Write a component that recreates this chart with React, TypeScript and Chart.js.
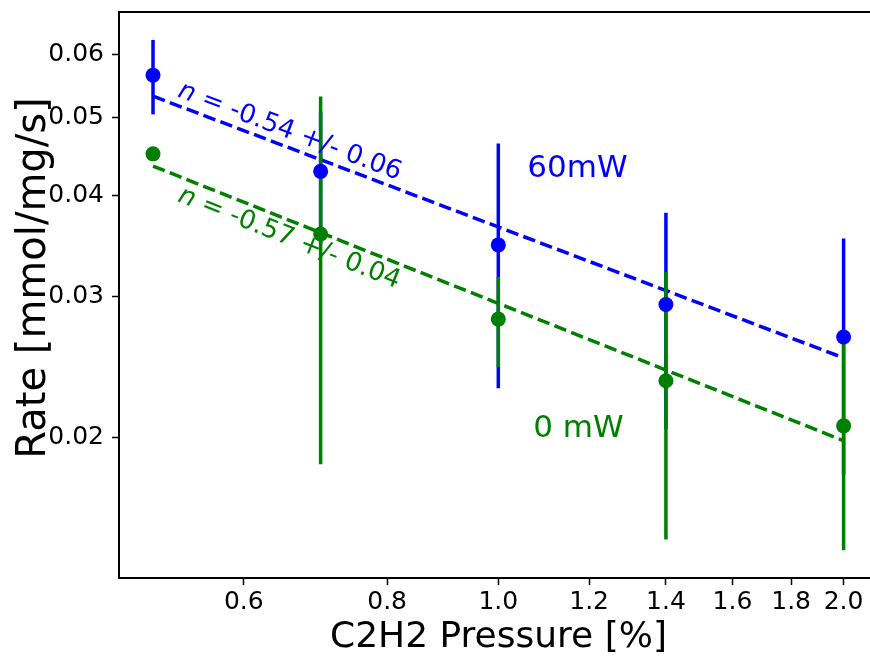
import React, { useEffect, useRef } from 'react';
import { Chart, registerables } from 'chart.js';

Chart.register(...registerables);

// ---- data ----
const pressures = [0.5, 0.7, 1.0, 1.4, 2.0];
const rate60 = [0.0565, 0.0429, 0.03475, 0.0293, 0.0267];
const err60 = [0.006, 0.008, 0.0117, 0.0088, 0.0087];
const rate0 = [0.0451, 0.03585, 0.0281, 0.02355, 0.0207];
const err0 = [0.0008, 0.0173, 0.0036, 0.0086, 0.0062];
const fitX = [0.5, 2.0];
const fit60 = [0.0532, 0.02515];
const fit0 = [0.04355, 0.01984];
const xTicks = [0.6, 0.8, 1.0, 1.2, 1.4, 1.6, 1.8, 2.0];
const yTicks = [0.02, 0.03, 0.04, 0.05, 0.06];
const xRange = [0.467, 2.143];
const yRange = [0.01339, 0.0677];
const xTitle = 'C2H2 Pressure [%]';
const yTitle = 'Rate [mmol/mg/s]';
const note60Rest = ' = -0.54 +/- 0.06';
const note0Rest = ' = -0.57 +/- 0.04';
const note60Pos = { x: 0.5245, y: 0.0532 };
const note0Pos = { x: 0.5245, y: 0.0394 };
const label60 = '60mW';
const label0 = '0 mW';
const label60Pos = { x: 1.0598, y: 0.04221 };
const label0Pos = { x: 1.0726, y: 0.02006 };

const BLUE = '#0000ff';
const GREEN = '#008000';
const FONT = '"DejaVu Sans", sans-serif';

function drawBars(chart: any, ys: number[], errs: number[], color: string) {
  const { ctx, scales, chartArea } = chart;
  ctx.save();
  ctx.beginPath();
  ctx.rect(chartArea.left, chartArea.top, chartArea.right - chartArea.left, chartArea.bottom - chartArea.top);
  ctx.clip();
  ctx.strokeStyle = color;
  ctx.lineWidth = 3.5;
  ctx.lineCap = 'butt';
  pressures.forEach((p, i) => {
    const px = scales.x.getPixelForValue(p);
    const y1 = scales.y.getPixelForValue(ys[i] + errs[i]);
    const y2 = scales.y.getPixelForValue(ys[i] - errs[i]);
    ctx.beginPath();
    ctx.moveTo(px, y1);
    ctx.lineTo(px, y2);
    ctx.stroke();
  });
  ctx.restore();
  ctx.beginPath();
}

function drawNote(chart: any, pos: { x: number; y: number }, fit: number[], rest: string, color: string) {
  const { ctx, scales } = chart;
  const x0 = scales.x.getPixelForValue(fitX[0]);
  const x1 = scales.x.getPixelForValue(fitX[1]);
  const y0 = scales.y.getPixelForValue(fit[0]);
  const y1 = scales.y.getPixelForValue(fit[1]);
  const angle = Math.atan2(y1 - y0, x1 - x0);
  const px = scales.x.getPixelForValue(pos.x);
  const py = scales.y.getPixelForValue(pos.y);
  ctx.save();
  ctx.translate(px, py);
  ctx.rotate(angle);
  ctx.fillStyle = color;
  ctx.textAlign = 'left';
  ctx.textBaseline = 'alphabetic';
  ctx.font = `italic 26px ${FONT}`;
  ctx.fillText('n', 0, 0);
  const w = ctx.measureText('n').width;
  ctx.font = `26px ${FONT}`;
  ctx.fillText(rest, w, 0);
  ctx.restore();
}

function drawLabel(chart: any, pos: { x: number; y: number }, text: string, color: string) {
  const { ctx, scales } = chart;
  ctx.save();
  ctx.fillStyle = color;
  ctx.textAlign = 'left';
  ctx.textBaseline = 'alphabetic';
  ctx.font = `31px ${FONT}`;
  ctx.fillText(text, scales.x.getPixelForValue(pos.x), scales.y.getPixelForValue(pos.y));
  ctx.restore();
}

const overlayPlugin = {
  id: 'overlay',
  beforeDatasetsDraw(chart: any) {
    drawBars(chart, rate60, err60, BLUE);
  },
  beforeDatasetDraw(chart: any, args: any) {
    if (args.meta && args.meta._dataset && args.meta._dataset.id === 'fit0') {
      drawBars(chart, rate0, err0, GREEN);
    }
  },
  afterDatasetsDraw(chart: any) {
    drawNote(chart, note60Pos, fit60, note60Rest, BLUE);
    drawNote(chart, note0Pos, fit0, note0Rest, GREEN);
    drawLabel(chart, label60Pos, label60, BLUE);
    drawLabel(chart, label0Pos, label0, GREEN);
  },
  afterDraw(chart: any) {
    const { ctx, chartArea } = chart;
    ctx.save();
    ctx.strokeStyle = '#000';
    ctx.lineWidth = 2;
    ctx.beginPath();
    ctx.moveTo(chartArea.left - 1, chartArea.top);
    ctx.lineTo(chartArea.right, chartArea.top);
    ctx.stroke();
    ctx.beginPath();
    ctx.fillStyle = '#000';
    ctx.font = `40px ${FONT}`;
    ctx.textAlign = 'center';
    ctx.textBaseline = 'alphabetic';
    ctx.translate(45, 278);
    ctx.rotate(-Math.PI / 2);
    ctx.fillText(yTitle, 0, 0);
    ctx.restore();
  },
};

export default function App() {
  const ref = useRef<HTMLCanvasElement | null>(null);
  useEffect(() => {
    if (!ref.current) return;
    Chart.defaults.font.family = FONT;
    const chart = new Chart(ref.current, {
      type: 'scatter',
      data: {
        datasets: [
          {
            id: 'fit60',
            type: 'line',
            data: fitX.map((x, i) => ({ x, y: fit60[i] })),
            borderColor: BLUE,
            borderWidth: 3.5,
            borderDash: [12.6, 5.4],
            pointRadius: 0,
            fill: false,
            order: 4,
          } as any,
          {
            id: 'fit0',
            type: 'line',
            data: fitX.map((x, i) => ({ x, y: fit0[i] })),
            borderColor: GREEN,
            borderWidth: 3.5,
            borderDash: [12.6, 5.4],
            pointRadius: 0,
            fill: false,
            order: 3,
          } as any,
          {
            label: '60mW',
            data: pressures.map((x, i) => ({ x, y: rate60[i] })),
            backgroundColor: BLUE,
            borderColor: BLUE,
            pointRadius: 7.5,
            pointBorderWidth: 0,
            order: 2,
          },
          {
            label: '0 mW',
            data: pressures.map((x, i) => ({ x, y: rate0[i] })),
            backgroundColor: GREEN,
            borderColor: GREEN,
            pointRadius: 7.5,
            pointBorderWidth: 0,
            order: 1,
          },
        ],
      },
      options: {
        responsive: false,
        animation: false,
        devicePixelRatio: 1,
        layout: { autoPadding: false, padding: { left: 0, top: 12, right: 12, bottom: 0 } },
        plugins: { legend: { display: false }, tooltip: { enabled: false } },
        scales: {
          x: {
            type: 'logarithmic',
            min: xRange[0],
            max: xRange[1],
            afterBuildTicks: (s: any) => {
              s.ticks = xTicks.map((v) => ({ value: v }));
            },
            afterFit: (s: any) => {
              s.height = 78;
              s.paddingLeft = 0;
              s.paddingRight = 0;
              s.paddingTop = 0;
              s.paddingBottom = 0;
            },
            ticks: {
              autoSkip: false,
              maxRotation: 0,
              padding: 2,
              color: '#000',
              font: { size: 25 },
              callback: (v: any) => Number(v).toFixed(1),
            },
            grid: { drawOnChartArea: false, tickLength: 7, tickWidth: 1.5, tickColor: '#000' },
            border: { display: true, color: '#000', width: 2 },
            title: {
              display: true,
              text: xTitle,
              color: '#000',
              font: { size: 36, lineHeight: 1 },
              padding: { top: 0, bottom: 0 },
            },
          },
          y: {
            type: 'logarithmic',
            min: yRange[0],
            max: yRange[1],
            afterBuildTicks: (s: any) => {
              s.ticks = yTicks.map((v) => ({ value: v }));
            },
            afterFit: (s: any) => {
              s.width = 119;
              s.paddingLeft = 0;
              s.paddingRight = 0;
              s.paddingTop = 0;
              s.paddingBottom = 0;
            },
            ticks: {
              autoSkip: false,
              padding: 8,
              color: '#000',
              font: { size: 25 },
              callback: (v: any) => Number(v).toFixed(2),
            },
            grid: { drawOnChartArea: false, tickLength: 7, tickWidth: 1.5, tickColor: '#000' },
            border: { display: true, color: '#000', width: 2 },
            title: { display: false, text: yTitle },
          },
        },
      } as any,
      plugins: [overlayPlugin],
    });
    return () => chart.destroy();
  }, []);
  return (
    <div style={{ position: 'fixed', left: 0, top: 0, width: 870, height: 656, overflow: 'hidden', background: '#fff' }}>
      <canvas ref={ref} width={890} height={656} style={{ display: 'block' }} />
    </div>
  );
}
